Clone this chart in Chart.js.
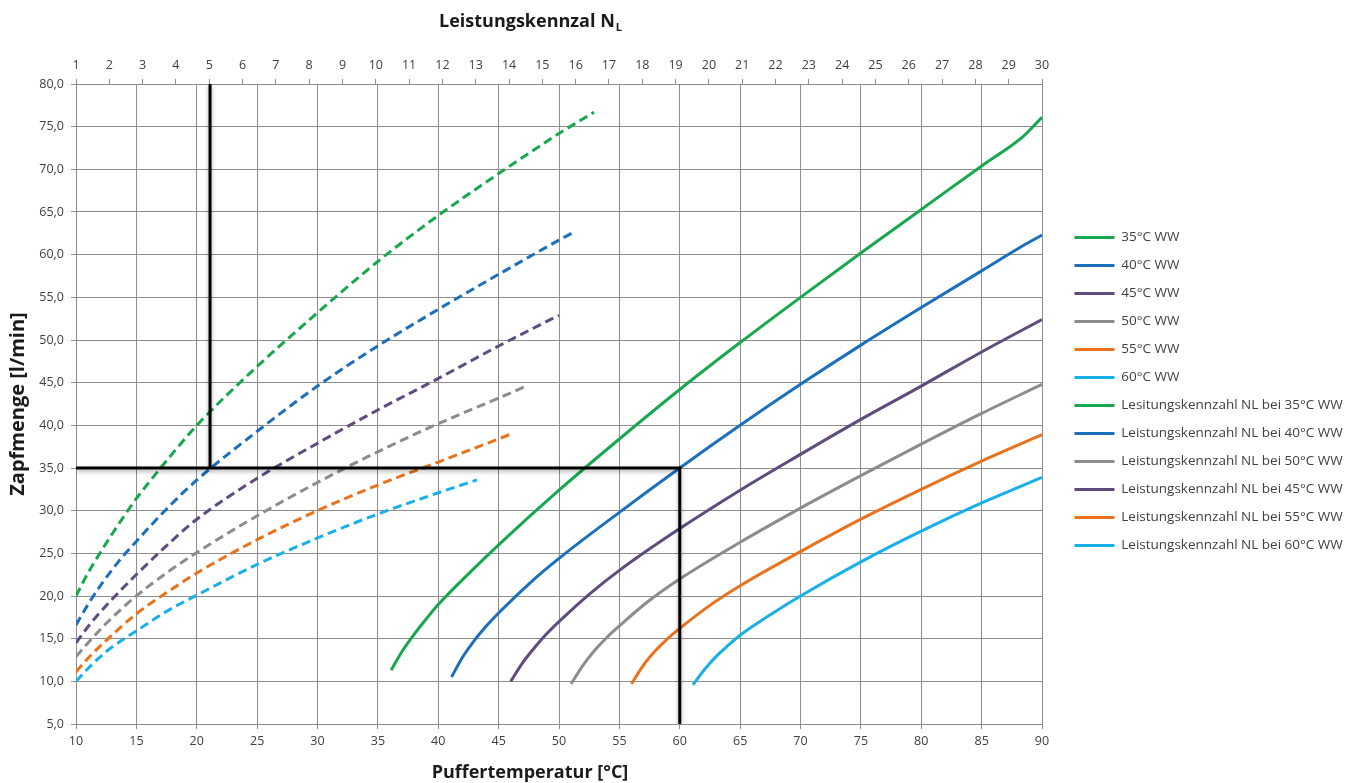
<!DOCTYPE html>
<html lang="de">
<head>
<meta charset="utf-8">
<title>Zapfmenge / Leistungskennzahl</title>
<script src="https://cdn.jsdelivr.net/npm/chart.js@4.4.1/dist/chart.umd.min.js"></script>
<style>
  html, body { margin: 0; padding: 0; background: #fff; }
  #wrap { width: 1357px; height: 783px; }
</style>
</head>
<body>
<div id="wrap"><canvas id="zapfChart" width="1357" height="783"></canvas></div>
<script>
// Zapfmenge [l/min] ueber Puffertemperatur [°C], je WW-Temperatur  ([T, Q])
const ww35 = [[36.1, 11.3], [37, 13.5], [38, 15.5], [39, 17.3], [40, 19.0], [42.5, 22.6], [45, 26.0], [50, 32.4], [55, 38.4], [60, 44.2], [65, 49.7], [70, 55.0], [75, 60.2], [80, 65.3], [85, 70.4], [88.4, 73.8], [90, 76.1]];
const ww40 = [[41.1, 10.5], [42, 12.8], [43, 14.8], [44, 16.5], [45, 18.0], [47.5, 21.4], [50, 24.4], [55, 29.8], [60, 35.0], [65, 40.0], [70, 44.8], [75, 49.4], [80, 53.8], [85, 58.1], [88, 60.7], [90, 62.3]];
const ww45 = [[46.0, 10.0], [47, 12.2], [48, 14.0], [49, 15.6], [50, 17.0], [52.5, 20.2], [55, 23.0], [60, 27.9], [65, 32.4], [70, 36.6], [75, 40.7], [80, 44.6], [85, 48.6], [90, 52.4]];
const ww50 = [[51.0, 9.7], [52, 11.9], [53, 13.7], [54, 15.2], [55, 16.5], [57.5, 19.5], [60, 22.0], [65, 26.3], [70, 30.3], [75, 34.1], [80, 37.8], [85, 41.4], [90, 44.8]];
const ww55 = [[56.0, 9.7], [57, 11.9], [58, 13.6], [59, 15.0], [60, 16.2], [62.5, 18.9], [65, 21.2], [70, 25.2], [75, 29.0], [80, 32.5], [85, 35.8], [90, 38.9]];
const ww60 = [[61.1, 9.6], [62, 11.3], [63, 12.9], [64, 14.2], [65, 15.4], [67.5, 17.8], [70, 20.0], [75, 24.0], [80, 27.6], [85, 30.9], [90, 33.9]];

// Leistungskennzahl NL (obere Achse) -> Zapfmenge  ([NL, Q])
const nl35 = [[1, 20.0], [1.36, 22.7], [1.73, 25.1], [2.09, 27.3], [2.45, 29.4], [2.81, 31.4], [3.54, 35.0], [4.63, 40.0], [6.44, 46.9], [8.25, 53.2], [10.06, 59.2], [11.88, 64.6], [13.69, 69.5], [15.5, 74.2], [16.55, 76.7]];
const nl40 = [[1, 16.6], [1.36, 19.0], [1.73, 21.2], [2.27, 24.0], [2.81, 26.4], [3.72, 30.2], [4.63, 33.6], [6.44, 39.3], [8.25, 44.6], [10.06, 49.3], [11.88, 53.6], [13.69, 57.7], [15.5, 61.7], [15.88, 62.5]];
const nl45 = [[1, 14.5], [1.36, 16.4], [1.91, 18.9], [2.81, 22.5], [3.72, 25.9], [4.63, 29.0], [6.44, 33.8], [8.25, 37.9], [10.06, 41.8], [11.88, 45.5], [13.69, 49.3], [15.5, 52.9]];
const nl50 = [[1, 12.9], [1.36, 14.5], [1.91, 16.8], [2.81, 20.0], [3.72, 22.7], [4.63, 25.1], [6.44, 29.4], [8.25, 33.3], [10.06, 36.9], [11.88, 40.2], [13.69, 43.2], [14.52, 44.6]];
const nl55 = [[1, 11.1], [1.36, 12.7], [1.91, 14.8], [2.81, 17.9], [3.72, 20.4], [4.63, 22.7], [6.44, 26.6], [8.25, 30.0], [10.06, 33.0], [11.88, 35.7], [14.01, 38.9]];
const nl60 = [[1, 10.0], [1.36, 11.5], [1.91, 13.5], [2.81, 15.9], [3.72, 18.2], [4.63, 20.1], [6.44, 23.7], [8.25, 26.8], [10.06, 29.6], [11.88, 32.1], [13.04, 33.6]];

// Ablesebeispiel (schwarze Linie), in °C / l/min
const readLine = [[21.1, 80], [21.1, 35], [10, 35], [60, 35], [60, 5]];

const solidLabels = ['35°C WW', '40°C WW', '45°C WW', '50°C WW', '55°C WW', '60°C WW'];
const dashedLabels = [
  'Lesitungskennzahl NL bei 35°C WW',
  'Leistungskennzahl NL bei 40°C WW',
  'Leistungskennzahl NL bei 50°C WW',
  'Leistungskennzahl NL bei 45°C WW',
  'Leistungskennzahl NL bei 55°C WW',
  'Leistungskennzahl NL bei 60°C WW'
];

// axis ranges
const tempRange = [10, 90];
const nlRange = [1, 30];
const flowRange = [5, 80];

const GREEN = '#17a84f', BLUE = '#1b6fbd', PURPLE = '#5f4b7e', GRAY = '#8c8c8c', ORANGE = '#e8731c', CYAN = '#19afe8';
const solidColors = [GREEN, BLUE, PURPLE, GRAY, ORANGE, CYAN];
const dashedColors = [GREEN, BLUE, GRAY, PURPLE, ORANGE, CYAN];
const GRID = '#8e8e8e';
const TEXT = '#404040';
const FONT = '"Open Sans", "Noto Sans", sans-serif';
const LEG_FONT = 13.5;

const toXY = arr => arr.map(p => ({ x: p[0], y: p[1] }));

const datasets = [];
[ww35, ww40, ww45, ww50, ww55, ww60].forEach((d, i) => {
  datasets.push({
    label: solidLabels[i], data: toXY(d), xAxisID: 'x', yAxisID: 'y',
    borderColor: solidColors[i], backgroundColor: solidColors[i],
    borderWidth: 3, showLine: true, pointRadius: 0, cubicInterpolationMode: 'monotone'
  });
});
[nl35, nl40, nl50, nl45, nl55, nl60].forEach((d, i) => {
  datasets.push({
    label: dashedLabels[i], data: toXY(d), xAxisID: 'x2', yAxisID: 'y',
    borderColor: dashedColors[i], backgroundColor: dashedColors[i],
    borderWidth: 3, borderDash: [9, 5], showLine: true, pointRadius: 0, cubicInterpolationMode: 'monotone'
  });
});
datasets.push({
  label: '', data: toXY(readLine), xAxisID: 'x', yAxisID: 'y', order: -1,
  borderColor: '#000', borderWidth: 3, showLine: true, pointRadius: 0, tension: 0, shadow: true
});

// legend width -> keep the plot's right edge where the original has it (x = 1042)
const m = document.createElement('canvas').getContext('2d');
m.font = LEG_FONT + 'px ' + FONT;
const maxText = Math.max(...solidLabels.concat(dashedLabels).map(t => m.measureText(t).width));
const LEG_PAD = 14.5, LEG_BOX = 40, LEG_SHIFT = 18;
const legendW = LEG_PAD + LEG_BOX + LEG_FONT / 2 + maxText + 10;
const rightPad = Math.max(0, 1357 - 1042 - legendW);

// legend starts a little away from the plot
const legendShift = {
  id: 'legendShift',
  afterLayout(chart) {
    chart.legend.left += LEG_SHIFT;
    chart.legend.right += LEG_SHIFT;
  }
};

// shadow under the black reading line
const lineShadow = {
  id: 'lineShadow',
  beforeDatasetDraw(chart, args) {
    if (!chart.data.datasets[args.index].shadow) return;
    const ctx = chart.ctx;
    ctx.save();
    ctx.shadowColor = 'rgba(0,0,0,0.35)';
    ctx.shadowBlur = 4;
    ctx.shadowOffsetY = 2;
  },
  afterDatasetDraw(chart, args) {
    if (chart.data.datasets[args.index].shadow) chart.ctx.restore();
  }
};

// axis titles for the two x axes (top one has a subscript)
const axisTitles = {
  id: 'axisTitles',
  afterDraw(chart) {
    const { ctx, chartArea } = chart;
    const cx = (chartArea.left + chartArea.right) / 2 - 29;
    ctx.save();
    ctx.fillStyle = '#1a1a1a';
    ctx.textBaseline = 'middle';
    ctx.textAlign = 'left';
    const main = 'Leistungskennzal N';
    ctx.font = 'bold 18px ' + FONT;
    const w1 = ctx.measureText(main).width;
    ctx.font = 'bold 11px ' + FONT;
    const w2 = ctx.measureText('L').width;
    const x0 = cx - (w1 + w2) / 2;
    ctx.font = 'bold 18px ' + FONT;
    ctx.fillText(main, x0, chartArea.top - 62);
    ctx.font = 'bold 11px ' + FONT;
    ctx.fillText('L', x0 + w1 + 1, chartArea.top - 56);
    ctx.textAlign = 'center';
    ctx.font = 'bold 18px ' + FONT;
    ctx.fillText('Puffertemperatur [°C]', cx, chartArea.bottom + 49);
    ctx.restore();
  }
};

var ctx = document.getElementById('zapfChart').getContext('2d');
var zapfChart = new Chart(ctx, {
  type: 'scatter',
  data: { datasets: datasets },
  options: {
    responsive: false,
    animation: false,
    layout: { padding: { left: 0, right: rightPad, top: 0, bottom: 0 } },
    plugins: {
      tooltip: { enabled: false },
      legend: {
        position: 'right',
        labels: {
          color: TEXT,
          font: { family: FONT, size: LEG_FONT },
          padding: LEG_PAD,
          usePointStyle: true,
          pointStyle: 'line',
          pointStyleWidth: LEG_BOX,
          filter: item => item.text !== ''
        }
      }
    },
    scales: {
      x: {
        type: 'linear', position: 'bottom', min: tempRange[0], max: tempRange[1],
        ticks: { stepSize: 5, color: TEXT, font: { family: FONT, size: 12.5 }, padding: 5 },
        grid: { color: GRID, tickLength: 5 },
        border: { color: GRID },
        afterFit: s => { s.height = 59; }
      },
      x2: {
        type: 'linear', position: 'top', min: nlRange[0], max: nlRange[1],
        ticks: { stepSize: 1, autoSkip: false, maxRotation: 0, color: TEXT, font: { family: FONT, size: 12.5 }, padding: 6 },
        grid: { drawOnChartArea: false, color: GRID, tickLength: 5 },
        border: { color: GRID },
        afterFit: s => { s.height = 84; }
      },
      y: {
        type: 'linear', position: 'left', min: flowRange[0], max: flowRange[1],
        ticks: {
          stepSize: 5, color: TEXT, font: { family: FONT, size: 12.5 }, padding: 7,
          callback: v => v.toFixed(1).replace('.', ',')
        },
        grid: { color: GRID, tickLength: 5 },
        border: { color: GRID },
        title: {
          display: true, text: 'Zapfmenge [l/min]', color: '#1a1a1a',
          font: { family: FONT, size: 20, weight: 'bold' }, padding: { top: 6, bottom: 0 }
        },
        afterFit: s => { s.width = 76; }
      }
    }
  },
  plugins: [legendShift, lineShadow, axisTitles]
});
</script>
</body>
</html>
